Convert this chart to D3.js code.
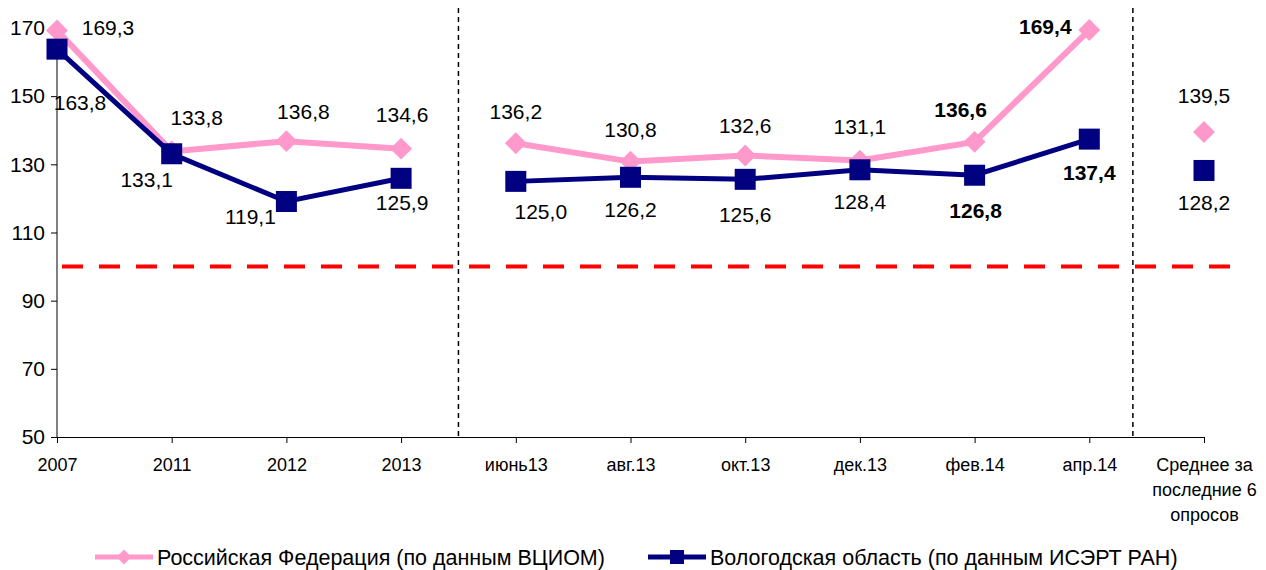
<!DOCTYPE html>
<html>
<head>
<meta charset="utf-8">
<script src="https://cdn.jsdelivr.net/npm/d3@7"></script>
<style>
  body { margin: 0; background: #fff; }
  svg { display: block; font-family: "Liberation Sans", Arial, sans-serif; }
</style>
</head>
<body>
<svg></svg>
<script>

var categories = ["2007", "2011", "2012", "2013", "июнь13", "авг.13", "окт.13", "дек.13", "фев.14", "апр.14", "Среднее за последние 6 опросов"];
var rfValues = [169.3, 133.8, 136.8, 134.6, 136.2, 130.8, 132.6, 131.1, 136.6, 169.4, 139.5];
var voValues = [163.8, 133.1, 119.1, 125.9, 125.0, 126.2, 125.6, 128.4, 126.8, 137.4, 128.2];
var rfLabels = ["169,3", "133,8", "136,8", "134,6", "136,2", "130,8", "132,6", "131,1", "136,6", "169,4", "139,5"];
var voLabels = ["163,8", "133,1", "119,1", "125,9", "125,0", "126,2", "125,6", "128,4", "126,8", "137,4", "128,2"];
var boldLabels = [8, 9];          // фев.14, апр.14
var segments = [[0, 3], [4, 9], [10, 10]];   // line pieces
var yTicks = [50, 70, 90, 110, 130, 150, 170];
var threshold = 100;
var seriesNames = ["Российская Федерация (по данным ВЦИОМ)", "Вологодская область (по данным ИСЭРТ РАН)"];

// label offsets (layout only)
var rfDx = [51, 25, 17, 1, 0, 0, 0, 0, -14, -44, 0];
var rfDy = [-3, -34, -30, -34, -32, -32, -30, -34, -32, -3, -36];
var voDx = [23, -25, -36, 1, 25, 0, 0, 0, 1, 0, 0];
var voDy = [54, 26, 15, 24, 30, 32, 35, 32, 35, 34, 32];

var width = 1266, height = 570;
var pink = "#ff99cc", navy = "#000080";
var font = "Liberation Sans, Arial, sans-serif";

var svg = d3.select("svg")
    .attr("width", width)
    .attr("height", height);

var x = d3.scalePoint()
    .domain(categories)
    .range([57, 1204]);

var y = d3.scaleLinear()
    .domain([50, 170])
    .range([437, 28]);

var step = x.step();

// y axis
var yAxis = svg.append("g")
    .attr("transform", "translate(57,0)")
    .call(d3.axisLeft(y).tickValues(yTicks).tickSize(6).tickPadding(6).tickFormat(d3.format("d")));
yAxis.select(".domain").attr("d", "M0," + y(50) + "V" + y(170)).attr("stroke", "#000");
yAxis.selectAll("text").attr("font-size", 21).attr("fill", "#000").attr("font-family", font);

// x axis
var xAxis = svg.append("g")
    .attr("transform", "translate(0," + y(50) + ")")
    .call(d3.axisBottom(x).tickSize(6).tickSizeOuter(0).tickFormat(""));
xAxis.select(".domain").attr("stroke", "#000");

xAxis.selectAll(".tick").each(function(d) {
  var t = d3.select(this).append("text")
      .attr("fill", "#000")
      .attr("font-size", 18)
      .attr("font-family", font)
      .attr("text-anchor", "middle");
  var lines = d.indexOf("Среднее") === 0 ? ["Среднее за", "последние 6", "опросов"] : [d];
  lines.forEach(function(l, i) {
    t.append("tspan").attr("x", 0).attr("y", 34 + i * 25).text(l);
  });
});

// vertical separators
var seps = [x("2013") + step * 0.5, x("апр.14") + step * 0.38];
svg.selectAll(".sep")
    .data(seps)
  .enter().append("line")
    .attr("x1", function(d) { return d; })
    .attr("x2", function(d) { return d; })
    .attr("y1", 8)
    .attr("y2", y(50))
    .attr("stroke", "#000")
    .attr("stroke-width", 1.5)
    .attr("stroke-dasharray", "5,4");

// threshold line
svg.append("line")
    .attr("x1", 62)
    .attr("x2", 1246)
    .attr("y1", y(threshold))
    .attr("y2", y(threshold))
    .attr("stroke", "#ff0000")
    .attr("stroke-width", 4)
    .attr("stroke-dasharray", "21,16");

var line = d3.line()
    .x(function(d) { return x(categories[d.i]); })
    .y(function(d) { return y(d.v); });

function drawSeries(values, color, width) {
  segments.forEach(function(s) {
    var pts = [];
    for (var i = s[0]; i <= s[1]; i++) pts.push({ i: i, v: values[i] });
    if (pts.length > 1) {
      svg.append("path")
          .attr("d", line(pts))
          .attr("fill", "none")
          .attr("stroke", color)
          .attr("stroke-width", width);
    }
  });
}

drawSeries(rfValues, pink, 6);
drawSeries(voValues, navy, 5);

var diamond = d3.symbol().type(d3.symbolSquare).size(240);

svg.selectAll(".rf")
    .data(rfValues)
  .enter().append("path")
    .attr("d", diamond)
    .attr("transform", function(d, i) { return "translate(" + x(categories[i]) + "," + y(d) + ") rotate(45)"; })
    .attr("fill", pink);

svg.selectAll(".vo")
    .data(voValues)
  .enter().append("rect")
    .attr("x", function(d, i) { return x(categories[i]) - 10.5; })
    .attr("y", function(d) { return y(d) - 10.5; })
    .attr("width", 21)
    .attr("height", 21)
    .attr("fill", navy);

function drawLabels(values, labels, dx, dy) {
  svg.selectAll(null)
      .data(values)
    .enter().append("text")
      .attr("x", function(d, i) { return x(categories[i]) + dx[i]; })
      .attr("y", function(d, i) { return y(d) + dy[i]; })
      .attr("dy", "0.35em")
      .attr("text-anchor", "middle")
      .attr("font-size", 21)
      .attr("font-weight", function(d, i) { return boldLabels.indexOf(i) >= 0 ? "bold" : "normal"; })
      .attr("fill", "#000")
      .text(function(d, i) { return labels[i]; });
}

drawLabels(rfValues, rfLabels, rfDx, rfDy);
drawLabels(voValues, voLabels, voDx, voDy);

// legend
var legend = [
  { name: seriesNames[0], color: pink, x: 95, mark: "diamond" },
  { name: seriesNames[1], color: navy, x: 648, mark: "square" }
];
legend.forEach(function(l) {
  var g = svg.append("g").attr("transform", "translate(" + l.x + ",557)");
  g.append("line").attr("x1", 0).attr("x2", 58).attr("stroke", l.color).attr("stroke-width", 5);
  if (l.mark === "diamond") {
    g.append("path").attr("d", d3.symbol().type(d3.symbolSquare).size(110)).attr("transform", "translate(29,0) rotate(45)").attr("fill", l.color);
  } else {
    g.append("rect").attr("x", 22).attr("y", -7).attr("width", 14).attr("height", 14).attr("fill", l.color);
  }
  g.append("text")
      .attr("x", 62)
      .attr("dy", "0.35em")
      .attr("font-size", 21.5)
      .attr("fill", "#000")
      .text(l.name);
});

</script>
</body>
</html>
